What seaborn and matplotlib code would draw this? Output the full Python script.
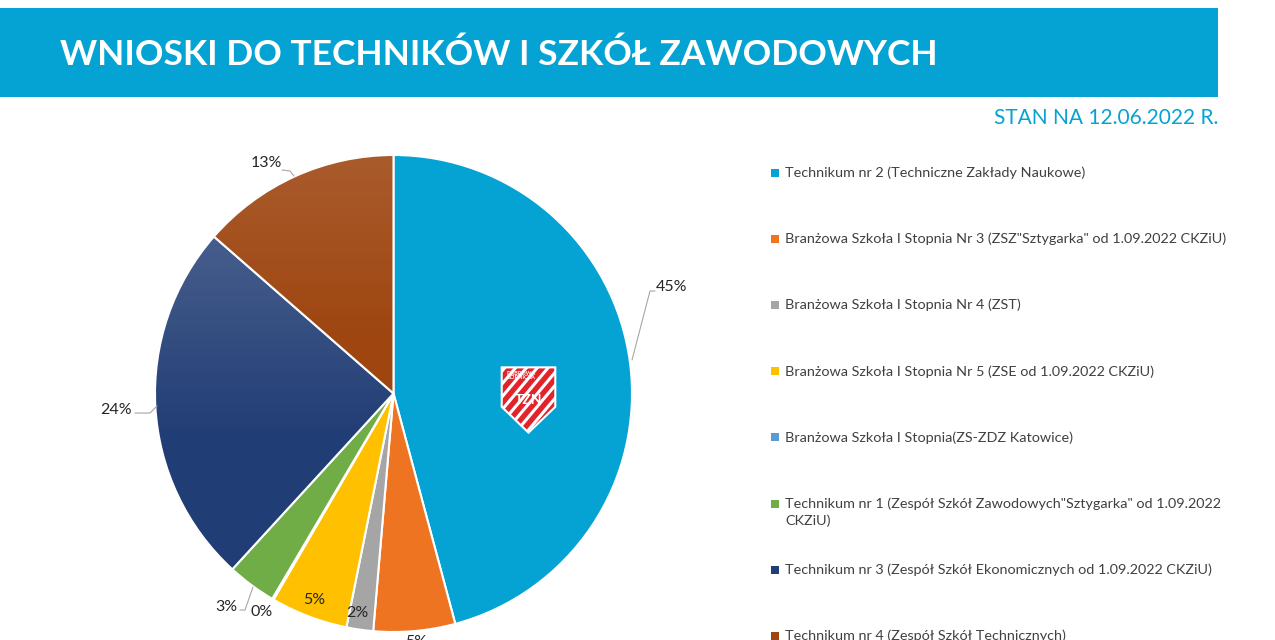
import numpy as np
import seaborn as sns
import matplotlib.pyplot as plt
from matplotlib.patches import Rectangle, Polygon

sns.set_theme(style="white")
plt.rcParams['font.family'] = ['Lato', 'DejaVu Sans']

# dane
szkoly = [
    "Technikum nr 2 (Techniczne Zakłady Naukowe)",
    "Branżowa Szkoła I Stopnia Nr 3 (ZSZ\"Sztygarka\" od 1.09.2022 CKZiU)",
    "Branżowa Szkoła I Stopnia Nr 4 (ZST)",
    "Branżowa Szkoła I Stopnia Nr 5 (ZSE od 1.09.2022 CKZiU)",
    "Branżowa Szkoła I Stopnia(ZS-ZDZ Katowice)",
    "Technikum nr 1 (Zespół Szkół Zawodowych\"Sztygarka\" od 1.09.2022\nCKZiU)",
    "Technikum nr 3 (Zespół Szkół Ekonomicznych od 1.09.2022 CKZiU)",
    "Technikum nr 4 (Zespół Szkół Technicznych)",
]
udzial = [45.6, 5.5, 1.8, 5.2, 0.1, 3.3, 24.5, 13.5]
etykiety = ["45%", "5%", "2%", "5%", "0%", "3%", "24%", "13%"]
kolory = ["#05A3D3", "#EE7422", "#A5A5A5", "#FFC000",
          "#5B9BD5", "#70AD47", "#213D75", "#9E4510"]

W, H = 1275, 640
fig = plt.figure(figsize=(W / 100, H / 100), dpi=100)

# pasek nagłówka
fig.add_artist(Rectangle((0, 1 - 97 / H), 1218 / W, 89 / H,
                         transform=fig.transFigure, color="#05A3D3", lw=0))
fig.text(60 / W, 1 - 55 / H, "WNIOSKI DO TECHNIKÓW I SZKÓŁ ZAWODOWYCH",
         color="white", fontsize=25.5, fontweight="bold", va="center")
fig.text(1218 / W, 1 - 118 / H, "STAN NA 12.06.2022 R.", color="#05A3D3",
         fontsize=15, ha="right", va="center")

# wykres kołowy
cx, cy, r = 393.5, 246.5, 238.5
box = 300
ax = fig.add_axes([(cx - box) / W, (cy - box) / H, 2 * box / W, 2 * box / H])
wedges, _ = ax.pie(udzial, colors=kolory, startangle=90, counterclock=False,
                   wedgeprops=dict(edgecolor="white", linewidth=1.5))

# delikatny gradient jak w Excelu
for idx, (a_top, y0, y1) in {6: (0.17, 0.65, -0.2), 7: (0.12, 1.0, 0.2)}.items():
    ys = np.linspace(1, -1, 200)
    alpha = np.clip((ys - y1) / (y0 - y1), 0, 1) * a_top
    img = np.ones((200, 1, 4))
    img[:, 0, 3] = alpha
    im = ax.imshow(img, extent=[-1, 1, -1, 1], aspect="auto", zorder=3)
    im.set_clip_path(wedges[idx])

lim = box / r
ax.set_xlim(-lim, lim)
ax.set_ylim(-lim, lim)
ax.axis("off")


def pc(px, py):
    return (px - 393.5) / r, (393.5 - py) / r


poz = [(672, 287), (416, 642), (357, 613), (314, 600),
       (262, 612), (226, 607), (116, 410), (266, 163)]
for lab, (px, py) in zip(etykiety, poz):
    x, y = pc(px, py)
    ax.text(x, y, lab, fontsize=11.5, color="#262626", ha="center", va="center",
            zorder=5, clip_on=False)

linie = [
    [(632, 360), (650, 291), (655, 291)],
    [(135, 413), (150, 413), (157, 406)],
    [(282, 170), (290, 171), (294, 176)],
    [(240, 610), (245, 610), (253, 587)],
]
for pts in linie:
    xy = np.array([pc(*p) for p in pts])
    ax.plot(xy[:, 0], xy[:, 1], color="#A6A6A6", lw=0.8, zorder=4)

# logo TZN
lax = fig.add_axes([500 / W, 1 - 434 / H, 57 / W, 68 / H])
lax.set_xlim(0, 1)
lax.set_ylim(0, 1)
lax.axis("off")
tarcza = Polygon([(0.03, 0.98), (0.97, 0.98), (0.97, 0.40), (0.5, 0.02), (0.03, 0.40)],
                 closed=True, fc="#E2232B", ec="white", lw=1.5)
lax.add_patch(tarcza)
for k in np.arange(-1.2, 1.0, 0.19):
    ln, = lax.plot([0, 1], [k, k + 1.0], color="white", lw=2.2)
    ln.set_clip_path(tarcza)
lax.text(0.12, 0.86, "DĄBROWA\nGÓRNICZA", color="white", fontsize=4,
         fontweight="bold", va="center", linespacing=0.9)
lax.text(0.5, 0.5, "TZN", color="white", fontsize=10, fontweight="bold",
         ha="center", va="center")

# legenda
for i, (nazwa, kol) in enumerate(zip(szkoly, kolory)):
    y = 173 + 66.1 * i
    fig.add_artist(Rectangle((771 / W, 1 - (y + 4) / H), 8 / W, 8 / H,
                             transform=fig.transFigure, color=kol, lw=0))
    for j, linia in enumerate(nazwa.split("\n")):
        fig.text(785 / W, 1 - (y + 17 * j) / H, linia, fontsize=10.4,
                 color="#404040", va="center")

fig.savefig("out.png", dpi=100)
